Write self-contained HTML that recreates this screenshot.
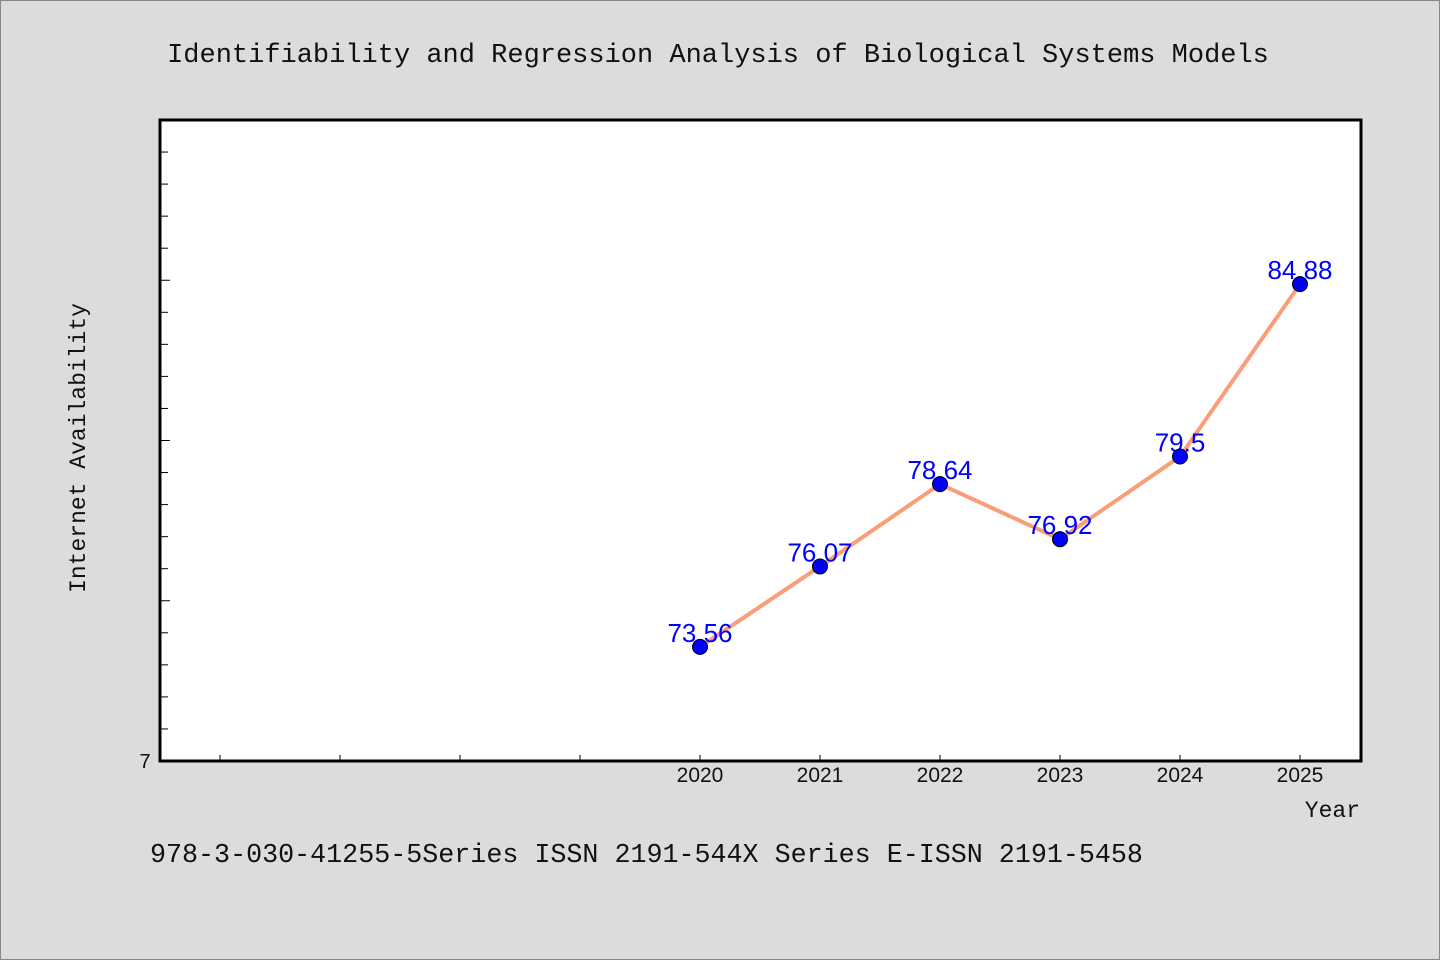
<!DOCTYPE html>
<html><head><meta charset="utf-8"><style>
body{margin:0;background:#dcdcdc;}
svg{display:block;}
</style></head><body>
<svg width="1440" height="960" xmlns="http://www.w3.org/2000/svg">
<rect x="0.5" y="0.5" width="1439" height="959" fill="#dcdcdc" stroke="#888"/>
<text x="718" y="62" text-anchor="middle" font-family="Liberation Mono, monospace" font-size="27" fill="#111">Identifiability and Regression Analysis of Biological Systems Models</text>
<rect x="160" y="120" width="1201" height="641" fill="#fff"/>
<g id="axes"></g>
<g id="series"></g>
<rect x="160" y="120" width="1201" height="641" fill="none" stroke="#000" stroke-width="3"/>
<text x="145" y="768" text-anchor="middle" font-family="Liberation Sans, sans-serif" font-size="20" fill="#111">7</text>
<text transform="translate(85,448) rotate(-90)" text-anchor="middle" font-family="Liberation Mono, monospace" font-size="23" fill="#111">Internet Availability</text>
<text x="1360" y="817" text-anchor="end" font-family="Liberation Mono, monospace" font-size="23" fill="#111">Year</text>
<text x="150" y="862" font-family="Liberation Mono, monospace" font-size="26.7" fill="#111">978-3-030-41255-5Series ISSN 2191-544X Series E-ISSN 2191-5458</text>
<script>
const years = [2020, 2021, 2022, 2023, 2024, 2025];
const values = [73.56, 76.07, 78.64, 76.92, 79.5, 84.88];
const labels = ["73.56", "76.07", "78.64", "76.92", "79.5", "84.88"];
const xTicks = [2016, 2017, 2018, 2019, 2020, 2021, 2022, 2023, 2024, 2025];
const xTickLabels = ["", "", "", "", "2020", "2021", "2022", "2023", "2024", "2025"];
const yMin = 70, yMax = 90;
const NS = "http://www.w3.org/2000/svg";
function xs(v){ return 700 + (v - 2020) * 120; }
function ys(v){ return 761 - (v - yMin) * (641 / (yMax - yMin)); }
const axes = document.getElementById('axes');
const ser = document.getElementById('series');
function mk(tag, attrs, parent){ const e = document.createElementNS(NS, tag); for (const k in attrs) e.setAttribute(k, attrs[k]); parent.appendChild(e); return e; }
for (let v = yMin + 1; v < yMax; v++) {
  const len = (v % 5 === 0) ? 10 : 8;
  const t = mk('line', {x1:160, x2:160+len, y1:ys(v), y2:ys(v), stroke:'#000', 'stroke-width':1}, axes);
  
  
}
xTicks.forEach((yr, i) => {
  const t = mk('line', {x1:xs(yr), x2:xs(yr), y1:761, y2:755, stroke:'#000', 'stroke-width':1}, axes);
  
  
  if (xTickLabels[i]) {
    const l = mk('text', {x:xs(yr), y:782, 'text-anchor':'middle', 'font-family':'Liberation Sans, sans-serif', 'font-size':21, fill:'#111'}, axes);
    l.textContent = xTickLabels[i];
    
    
  }
});
const pts = years.map((y, i) => xs(y) + ',' + ys(values[i])).join(' ');
const line = mk('polyline', {points:pts, fill:'none', stroke:'#fa9e7a', 'stroke-width':4, 'stroke-linejoin':'round'}, ser);


years.forEach((y, i) => {
  const l = mk('text', {x:xs(y), y:ys(values[i]) - 5, 'text-anchor':'middle', 'font-family':'Liberation Sans, sans-serif', 'font-size':26, fill:'#0000ff'}, ser);
  l.textContent = labels[i];
  
  
});
years.forEach((y, i) => {
  const c = mk('circle', {cx:xs(y), cy:ys(values[i]), r:7.5, fill:'#0000ff', stroke:'#000', 'stroke-width':1}, ser);
  
  
});
</script>
</svg>
</body></html>
